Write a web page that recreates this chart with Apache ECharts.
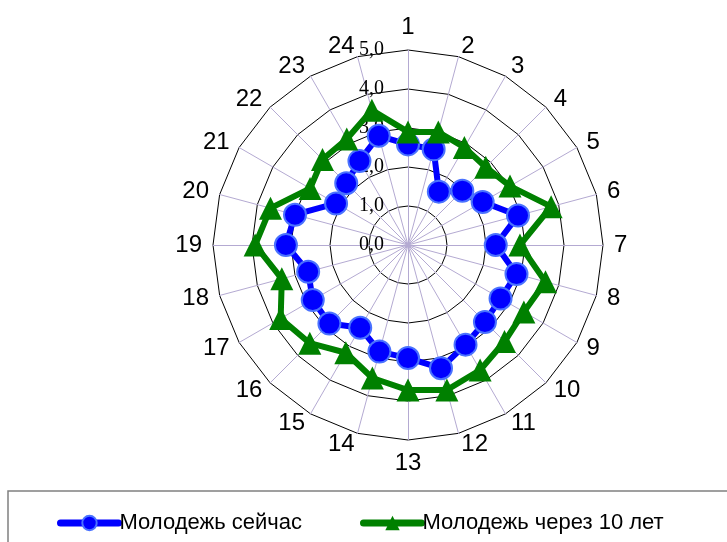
<!DOCTYPE html>
<html>
<head>
<meta charset="utf-8">
<script src="https://cdn.jsdelivr.net/npm/echarts@6/dist/echarts.min.js"></script>
<style>html,body{margin:0;padding:0;background:#fff;}#c{width:727px;height:542px;}</style>
</head>
<body>
<div id="c"></div>
<script>
const categories = ['1','2','3','4','5','6','7','8','9','10','11','12','13','14','15','16','17','18','19','20','21','22','23','24'];
const seriesNames = ['Молодежь сейчас', 'Молодежь через 10 лет'];
const youthNow = [2.58, 2.54, 1.58, 1.97, 2.21, 2.92, 2.25, 2.88, 2.74, 2.79, 2.95, 3.27, 2.9, 2.83, 2.45, 2.85, 2.82, 2.65, 3.13, 3.0, 2.13, 2.24, 2.49, 2.9];
const youthIn10 = [2.9, 3.0, 2.89, 2.82, 3.02, 3.8, 2.87, 3.65, 3.43, 3.5, 3.7, 3.85, 3.72, 3.53, 3.19, 3.56, 3.77, 3.35, 3.92, 3.65, 2.9, 3.1, 3.14, 3.58];
const radiusTicks = [0, 1, 2, 3, 4, 5];

const step = 360 / categories.length;
function toPolar(vals) {
  const d = vals.map((v, i) => [v, i * step]);
  d.push({ value: [vals[0], 360], symbol: 'none' });
  return d;
}
// radar indicators run counter-clockwise; order them so labels read clockwise
const indicators = [categories[0]].concat(categories.slice(1).reverse()).map(n => ({ name: n, min: 0, max: radiusTicks[radiusTicks.length - 1] }));

const CX = 408, CY = 245, R = 195;
const chart = echarts.init(document.getElementById('c'));
chart.setOption({
  animation: false,
  backgroundColor: '#fff',
  graphic: [{
    type: 'rect', shape: { x: 8, y: 491, width: 740, height: 70 },
    style: { fill: 'none', stroke: '#808080', lineWidth: 1.5 }, silent: true
  }],
  radar: {
    center: [CX, CY], radius: R, startAngle: 90, shape: 'polygon',
    splitNumber: radiusTicks.length - 1,
    indicator: indicators,
    nameGap: 11,
    axisName: { color: '#000', fontSize: 24, fontFamily: 'Liberation Sans, Arial, sans-serif' },
    axisLine: { lineStyle: { color: '#b4aad2', width: 1 } },
    splitLine: { lineStyle: { color: '#000', width: 1 } },
    splitArea: { show: false },
    axisTick: { show: false },
    axisLabel: { show: false }
  },
  polar: { center: [CX, CY], radius: R },
  angleAxis: {
    type: 'value', min: 0, max: 360, startAngle: 90, clockwise: true,
    axisLine: { show: false }, axisTick: { show: false }, axisLabel: { show: false }, splitLine: { show: false }
  },
  radiusAxis: {
    type: 'value', min: radiusTicks[0], max: radiusTicks[radiusTicks.length - 1], interval: 1,
    axisLine: { show: false }, axisTick: { show: false }, splitLine: { show: false },
    axisLabel: {
      color: '#000', fontSize: 20, fontFamily: 'Liberation Serif, Times New Roman, serif', margin: 24,
      formatter: v => v.toFixed(1).replace('.', ',')
    }
  },
  legend: {
    left: 57, top: 512, padding: 0, itemWidth: 58, itemHeight: 18, itemGap: 58,
    lineStyle: { width: 7, cap: 'round' },
    textStyle: { color: '#000', fontSize: 22, fontFamily: 'Liberation Sans, Arial, sans-serif', padding: [0, 0, 0, -4] },
    data: seriesNames
  },
  series: [
    {
      name: seriesNames[0], type: 'line', coordinateSystem: 'polar',
      data: toPolar(youthNow),
      symbol: 'circle', symbolSize: 22,
      lineStyle: { color: '#0000ff', width: 6 },
      itemStyle: { color: '#0000ff', borderColor: '#4a72ff', borderWidth: 2 },
      z: 3
    },
    {
      name: seriesNames[1], type: 'line', coordinateSystem: 'polar',
      data: toPolar(youthIn10),
      symbol: 'triangle', symbolSize: 23,
      lineStyle: { color: '#008000', width: 6 },
      itemStyle: { color: '#008000' },
      z: 4
    }
  ]
});
</script>
</body>
</html>
